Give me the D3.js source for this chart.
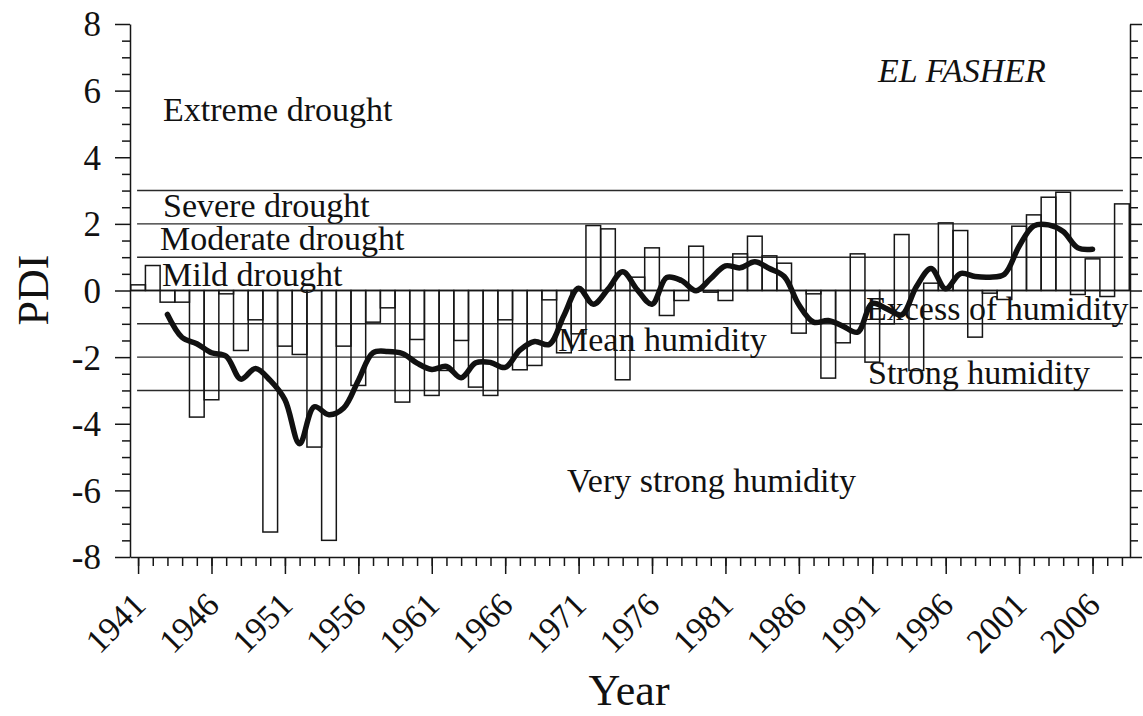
<!DOCTYPE html>
<html><head><meta charset="utf-8">
<script src="https://cdn.jsdelivr.net/npm/d3@7/dist/d3.min.js"></script>
<style>
body{margin:0;background:#fff}
text{font-family:"Liberation Serif","Times New Roman",serif;fill:#111}
</style>
</head><body>
<svg id="c" width="1143" height="716"></svg>
<script>
// ---------- data ----------
const years = [1941,1942,1943,1944,1945,1946,1947,1948,1949,1950,1951,1952,1953,1954,1955,1956,1957,1958,1959,1960,
  1961,1962,1963,1964,1965,1966,1967,1968,1969,1970,1971,1972,1973,1974,1975,1976,1977,1978,1979,1980,
  1981,1982,1983,1984,1985,1986,1987,1988,1989,1990,1991,1992,1993,1994,1995,1996,1997,1998,1999,2000,
  2001,2002,2003,2004,2005,2006,2007,2008];
const pdi = [0.17,0.75,-0.35,-0.35,-3.8,-3.28,-0.1,-1.8,-0.88,-7.25,-1.67,-1.92,-4.7,-7.5,-1.67,-2.85,-0.95,-0.52,-3.35,-1.47,
  -3.15,-2.4,-1.5,-2.9,-3.15,-0.88,-2.38,-2.25,-0.28,-1.87,-1.3,1.95,1.85,-2.68,0.4,1.28,-0.75,-0.3,1.33,-0.05,
  -0.3,1.1,1.63,1.04,0.82,-1.28,-0.1,-2.63,-1.57,1.1,-2.15,-1.0,1.68,-2.4,0.22,2.03,1.8,-1.4,-0.08,-0.27,
  1.93,2.27,2.8,2.95,-0.12,0.95,-0.18,2.6];
const maYears = [1943,1944,1945,1946,1947,1948,1949,1950,1951,1952,1953,1954,1955,1956,1957,1958,1959,1960,
  1961,1962,1963,1964,1965,1966,1967,1968,1969,1970,1971,1972,1973,1974,1975,1976,1977,1978,1979,1980,
  1981,1982,1983,1984,1985,1986,1987,1988,1989,1990,1991,1992,1993,1994,1995,1996,1997,1998,1999,2000,
  2001,2002,2003,2004,2005,2006];
const maValues = [-0.72,-1.41,-1.6,-1.87,-1.97,-2.66,-2.34,-2.7,-3.28,-4.6,-3.49,-3.73,-3.53,-2.7,-1.87,-1.83,-1.89,-2.18,
  -2.37,-2.28,-2.62,-2.17,-2.16,-2.31,-1.79,-1.53,-1.62,-0.75,0.07,-0.41,0.04,0.56,0.02,-0.41,0.39,0.3,-0.01,0.36,
  0.74,0.68,0.86,0.66,0.42,-0.43,-0.95,-0.9,-1.07,-1.25,-0.39,-0.55,-0.73,0.11,0.66,0.05,0.51,0.42,0.4,0.49,
  1.33,1.94,1.97,1.77,1.28,1.24];
const classBounds = [3,2,1,-1,-2,-3];
const classNames = ["Extreme drought","Severe drought","Moderate drought","Mild drought",
  "Mean humidity","Excess of humidity","Strong humidity","Very strong humidity"];
const stationName = "EL FASHER";
const yMajorTicks = [-8,-6,-4,-2,0,2,4,6,8];
const yTickLabels = ["-8","-6","-4","-2","0","2","4","6","8"];
const yMinorTicks = [-7.5,-7,-6.5,-5.5,-5,-4.5,-3.5,-3,-2.5,-1.5,-1,-0.5,0.5,1,1.5,2.5,3,3.5,4.5,5,5.5,6.5,7,7.5];
const xTickLabels = ["1941","1946","1951","1956","1961","1966","1971","1976","1981","1986","1991","1996","2001","2006"];

// ---------- layout ----------
const svg = d3.select("#c");
const x = d3.scaleLinear().domain([1940.45, 2008.55]).range([130, 1130]);
const y = d3.scaleLinear().domain([-8, 8]).range([557, 24]);
const bw = x(1941) - x(1940);
const ink = "#161616";

// class boundary lines
svg.append("g").selectAll("line").data(classBounds).join("line")
  .attr("x1", x(1941) - 1).attr("x2", x(2008) + 1)
  .attr("y1", d => y(d)).attr("y2", d => y(d))
  .attr("stroke", "#2a2a2a").attr("stroke-width", 1.4);
// zero line
svg.append("line").attr("x1", 130).attr("x2", 1130).attr("y1", y(0)).attr("y2", y(0))
  .attr("stroke", ink).attr("stroke-width", 1.6);

// class labels
const labelPos = [[163,121],[163,217],[160,250],[162,286],[558,351],[866,320],[868,384],[567,492]];
svg.append("g").selectAll("text").data(classNames).join("text")
  .attr("x", (d,i) => labelPos[i][0]).attr("y", (d,i) => labelPos[i][1])
  .attr("font-size", 34).text(d => d);
svg.append("text").attr("x", 878).attr("y", 82).attr("font-size", 34)
  .attr("font-style", "italic").text(stationName);

// bars
svg.append("g").selectAll("rect").data(years.map((yr, i) => ({yr, v: pdi[i]}))).join("rect")
  .attr("x", d => x(d.yr) - bw/2).attr("width", bw)
  .attr("y", d => y(Math.max(0, d.v))).attr("height", d => Math.abs(y(d.v) - y(0)))
  .attr("fill", "none").attr("stroke", ink).attr("stroke-width", 1.5);

// moving average line
const line = d3.line().x(d => x(d[0])).y(d => y(d[1])).curve(d3.curveCatmullRom.alpha(0.5));
svg.append("path").datum(maYears.map((yr, i) => [yr, maValues[i]]))
  .attr("d", line).attr("fill", "none").attr("stroke", "#111")
  .attr("stroke-width", 5.5).attr("stroke-linejoin", "round").attr("stroke-linecap", "round");

// axes
function styleAxis(g){
  g.selectAll("path,line").attr("stroke", ink).attr("stroke-width", 1.5);
  g.selectAll("text").attr("fill", "#111").attr("font-family", '"Liberation Serif","Times New Roman",serif');
}
// left
svg.append("g").attr("transform", "translate(130,0)")
  .call(d3.axisLeft(y).tickValues(yMinorTicks).tickSize(8).tickSizeOuter(0).tickFormat(""))
  .call(styleAxis).call(g => g.select(".domain").remove());
svg.append("g").attr("transform", "translate(130,0)")
  .call(d3.axisLeft(y).tickValues(yMajorTicks).tickSize(15).tickSizeOuter(0).tickPadding(14)
    .tickFormat((d,i) => yTickLabels[i]))
  .call(styleAxis)
  .call(g => g.selectAll("text").attr("font-size", 35).attr("dy", "0.34em"));
// right
svg.append("g").attr("transform", "translate(1130,0)")
  .call(d3.axisRight(y).tickValues(yMinorTicks).tickSize(8).tickSizeOuter(0).tickFormat(""))
  .call(styleAxis).call(g => g.select(".domain").remove());
svg.append("g").attr("transform", "translate(1130,0)")
  .call(d3.axisRight(y).tickValues(yMajorTicks).tickSize(12).tickSizeOuter(0).tickFormat(""))
  .call(styleAxis);
// bottom
svg.append("g").attr("transform", `translate(0,${y(-8)})`)
  .call(d3.axisBottom(x).tickValues(years).tickSize(9).tickSizeOuter(0).tickFormat(""))
  .call(styleAxis).call(g => g.select(".domain").remove());
svg.append("g").attr("transform", `translate(0,${y(-8)})`)
  .call(d3.axisBottom(x).tickValues(xTickLabels.map(Number)).tickSize(17).tickSizeOuter(0).tickFormat((d,i) => xTickLabels[i]))
  .call(styleAxis)
  .call(g => g.selectAll("text").attr("font-size", 34).attr("x", 0).attr("y", 0).attr("dy", 0)
    .attr("text-anchor", "end").attr("transform", "translate(9,50) rotate(-45)"));

// axis titles
svg.append("text").attr("x", 629).attr("y", 705).attr("font-size", 44)
  .attr("text-anchor", "middle").text("Year");
svg.append("text").attr("transform", "translate(48,290) rotate(-90)").attr("font-size", 44)
  .attr("text-anchor", "middle").text("PDI");
</script>
</body></html>
